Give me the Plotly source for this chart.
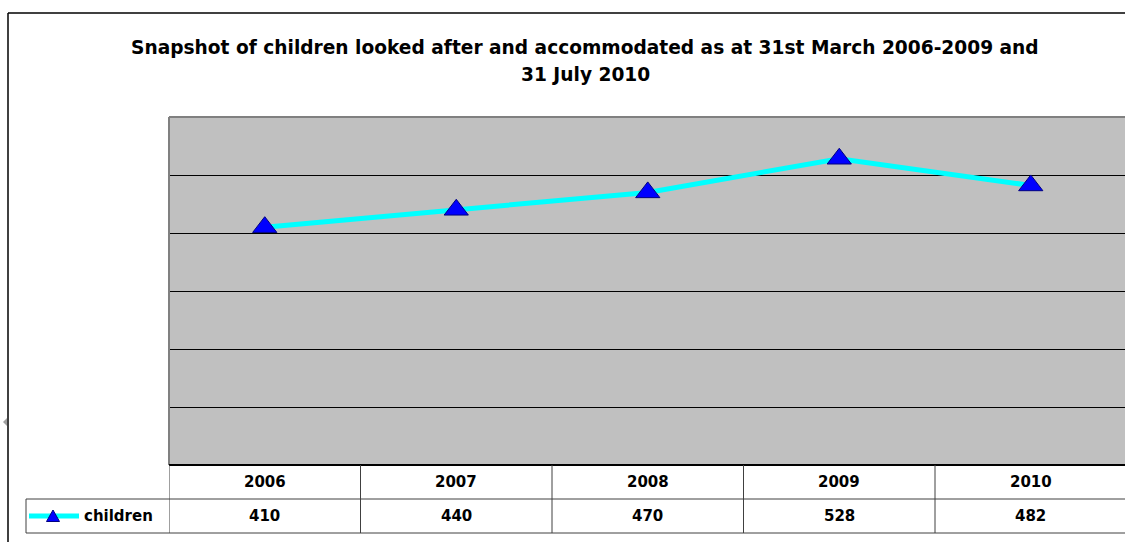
import plotly.graph_objects as go

# ---- data ----
years = ["2006", "2007", "2008", "2009", "2010"]
children = [410, 440, 470, 528, 482]
series_name = "children"
title_line1 = "Snapshot of children looked after and accommodated as at 31st March 2006-2009 and"
title_line2 = "31 July 2010"
y_gridlines = [100, 200, 300, 400, 500]

W, H = 1125, 542
FONT = "DejaVu Sans"


def px(x):
    return x / W


def py(y):
    return 1 - y / H


plot_left, plot_top, plot_bottom = 169, 117, 465
col_w = 191.5

fig = go.Figure()
fig.add_trace(go.Scatter(
    x=list(range(len(years))), y=children, mode="lines+markers",
    line=dict(color="#00FFFF", width=5),
    marker=dict(symbol="triangle-up", size=21, color="#0000FF",
                line=dict(color="#000080", width=1)),
    showlegend=False, cliponaxis=False, hoverinfo="x+y",
))

shapes = []
# plot area background
shapes.append(dict(type="rect", xref="paper", yref="paper", layer="below",
                   x0=px(plot_left), x1=1, y0=py(plot_bottom), y1=py(plot_top),
                   fillcolor="#C0C0C0", line=dict(width=0)))
# plot area grey border (top & left)
shapes.append(dict(type="line", xref="paper", yref="paper",
                   x0=px(plot_left), x1=1, y0=py(plot_top), y1=py(plot_top),
                   line=dict(color="#808080", width=2)))
shapes.append(dict(type="line", xref="paper", yref="paper",
                   x0=px(plot_left), x1=px(plot_left), y0=py(plot_top), y1=py(plot_bottom),
                   line=dict(color="#808080", width=2)))
# outer chart border
shapes.append(dict(type="line", xref="paper", yref="paper",
                   x0=px(8), x1=1, y0=py(13), y1=py(13), line=dict(color="#000000", width=1.5)))
shapes.append(dict(type="line", xref="paper", yref="paper",
                   x0=px(8), x1=px(8), y0=py(13), y1=0, line=dict(color="#000000", width=1.5)))
# data table
row1_top, row2_top, row2_bot = 465, 499, 533
shapes.append(dict(type="line", xref="paper", yref="paper",
                   x0=px(plot_left), x1=1, y0=py(row1_top), y1=py(row1_top),
                   line=dict(color="#000000", width=2)))
for yy in (row2_top, row2_bot):
    shapes.append(dict(type="line", xref="paper", yref="paper",
                       x0=px(26), x1=1, y0=py(yy), y1=py(yy),
                       line=dict(color="#404040", width=1)))
for i in range(len(years)):
    shapes.append(dict(type="line", xref="x", yref="paper",
                       x0=i - 0.5, x1=i - 0.5, y0=py(row1_top), y1=py(row2_bot),
                       line=dict(color="#404040", width=1)))
shapes.append(dict(type="line", xref="paper", yref="paper",
                   x0=px(26), x1=px(26), y0=py(row2_top), y1=py(row2_bot),
                   line=dict(color="#404040", width=1)))
# legend key in table
shapes.append(dict(type="line", xref="paper", yref="paper",
                   x0=px(29), x1=px(79), y0=py(516), y1=py(516),
                   line=dict(color="#00FFFF", width=5)))
shapes.append(dict(type="path", xref="paper", yref="paper",
                   path=f"M {px(46.5)} {py(521.5)} L {px(59.5)} {py(521.5)} L {px(53)} {py(510)} Z",
                   fillcolor="#0000FF", line=dict(color="#000080", width=1)))
# small grey marker at left edge
shapes.append(dict(type="path", xref="paper", yref="paper",
                   path=f"M {px(3)} {py(422)} L {px(7)} {py(418)} L {px(7)} {py(426)} Z",
                   fillcolor="#A0A0A0", line=dict(width=0)))

annotations = [
    dict(text=f"<b>{title_line1}</b>", xref="paper", yref="paper", x=px(585), y=py(47),
         showarrow=False, xanchor="center", yanchor="middle",
         font=dict(family=FONT, size=18.6, color="#000000")),
    dict(text=f"<b>{title_line2}</b>", xref="paper", yref="paper", x=px(585), y=py(74),
         showarrow=False, xanchor="center", yanchor="middle",
         font=dict(family=FONT, size=18.6, color="#000000")),
    dict(text=f"<b>{series_name}</b>", xref="paper", yref="paper", x=px(82), y=py(516),
         showarrow=False, xanchor="left", yanchor="middle",
         font=dict(family=FONT, size=15, color="#000000")),
]
for i, (yr, v) in enumerate(zip(years, children)):
    annotations.append(dict(text=f"<b>{yr}</b>", xref="x", yref="paper", x=i, y=py(482),
                            showarrow=False, xanchor="center", yanchor="middle",
                            font=dict(family=FONT, size=15, color="#000000")))
    annotations.append(dict(text=f"<b>{v}</b>", xref="x", yref="paper", x=i, y=py(516),
                            showarrow=False, xanchor="center", yanchor="middle",
                            font=dict(family=FONT, size=15, color="#000000")))

fig.update_layout(
    width=W, height=H, margin=dict(l=0, r=0, t=0, b=0),
    paper_bgcolor="#FFFFFF", plot_bgcolor="rgba(0,0,0,0)",
    showlegend=False,
    xaxis=dict(domain=[px(plot_left), 1], range=[-0.5, -0.5 + (W - plot_left) / col_w],
               showticklabels=False, showgrid=False, zeroline=False, showline=False,
               fixedrange=True),
    yaxis=dict(domain=[py(plot_bottom), py(plot_top)], range=[0, 600],
               tickvals=y_gridlines, showticklabels=False, showgrid=True,
               gridcolor="#000000", gridwidth=1, zeroline=False, showline=False,
               ticks="", fixedrange=True),
    shapes=shapes, annotations=annotations,
)

fig.write_html(
    "out.html",
    config={"displayModeBar": False},
    post_script="document.body.style.margin='0px';document.body.style.overflow='hidden';",
)
